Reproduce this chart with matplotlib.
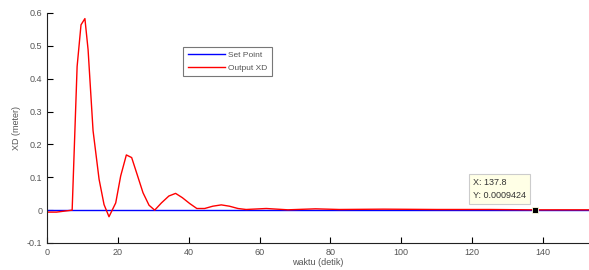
import matplotlib
matplotlib.use("Agg")
import matplotlib.pyplot as plt

t = [0, 2.7, 7.1, 8.5, 9.6, 10.7, 11.6, 13.0, 14.7, 16.1, 17.5, 19.4, 20.8, 22.4, 23.9,
     25.4, 27.1, 28.8, 30.4, 32.3, 34.4, 36.3, 38.2, 40.3, 42.3, 44.5, 46.8, 49.2, 51.5,
     53.9, 56.2, 61.9, 68.0, 75.8, 82.5, 95.0, 110.0, 125.0, 137.8, 145.0, 153.0]
output = [-0.006, -0.006, 0.0, 0.437, 0.564, 0.583, 0.488, 0.242, 0.094, 0.017, -0.02,
          0.022, 0.104, 0.168, 0.16, 0.11, 0.053, 0.015, 0.0, 0.022, 0.043, 0.051, 0.038,
          0.02, 0.005, 0.005, 0.012, 0.016, 0.012, 0.005, 0.002, 0.005, 0.001, 0.004,
          0.002, 0.003, 0.002, 0.002, 0.0009, 0.001, 0.001]
setpoint_t = [0, 153]
setpoint = [0, 0]
xticks = [0, 20, 40, 60, 80, 100, 120, 140]
yticks = [-0.1, 0, 0.1, 0.2, 0.3, 0.4, 0.5, 0.6]
tip_x, tip_y = 137.8, 0.0009
tip_text = "X: 137.8\nY: 0.0009424"

plt.rcParams['font.family'] = ['Liberation Sans', 'DejaVu Sans']
fig = plt.figure(figsize=(5.89, 2.70), dpi=100)
ax = fig.add_axes([47/589, (270-243)/270, 542/589, 230/270])

ax.plot(setpoint_t, setpoint, color='#0000ff', lw=1.0, label='Set Point')
ax.plot(t, output, color='#ff0000', lw=1.0, label='Output XD')
ax.plot([tip_x], [tip_y], marker='s', color='black', ms=5, mec='#ffffe1', mew=0.6)
ax.annotate(tip_text, xy=(tip_x, tip_y), xytext=(-62, 10), textcoords='offset pixels',
            fontsize=6.5, color='#333333', va='bottom', ha='left', linespacing=1.5,
            bbox=dict(boxstyle='square,pad=0.45', fc='#ffffe6', ec='#cccccc', lw=0.8))

ax.set_xlim(0, 153)
ax.set_ylim(-0.1, 0.6)
ax.set_xticks(xticks)
ax.set_xticklabels([str(v) for v in xticks])
ax.set_yticks(yticks)
ax.set_yticklabels(['-0.1', '0', '0.1', '0.2', '0.3', '0.4', '0.5', '0.6'])
ax.tick_params(direction='in', length=4, width=0.8, labelsize=6.5, labelcolor='#555555')
ax.spines['top'].set_visible(False)
ax.spines['right'].set_visible(False)
for s in ('left', 'bottom'):
    ax.spines[s].set_linewidth(0.8)
    ax.spines[s].set_color('#222222')
ax.set_xlabel('waktu (detik)', fontsize=6.5, color='#555555', labelpad=1)
ax.set_ylabel('XD (meter)', fontsize=6.5, color='#555555', labelpad=4)

leg = ax.legend(loc='upper left', bbox_to_anchor=(0.244, 0.87), fontsize=6,
                frameon=True, fancybox=False, edgecolor='#555555', handlelength=4.5,
                borderpad=0.5, labelspacing=0.6, handletextpad=0.4)
leg.get_frame().set_linewidth(0.8)
for txt in leg.get_texts():
    txt.set_color('#555555')

fig.savefig('out.png', dpi=100)
